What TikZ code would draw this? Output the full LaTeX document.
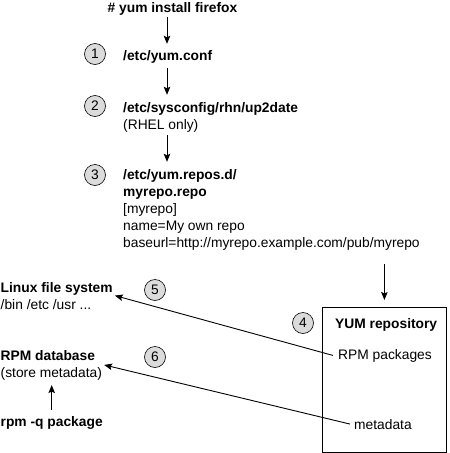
\documentclass[tikz,border=0pt]{standalone}
\usepackage{fontspec}
\setmainfont{Liberation Sans}
\usetikzlibrary{arrows.meta,positioning}

\begin{document}
\begin{tikzpicture}[
       x = 1pt, y = -1pt,
      font = \fontsize{13.8}{17}\selectfont,
StepNum/.style={circle, draw, fill=black!14, minimum size=21pt,
                inner sep=0pt, line width=0.6pt},
FileText/.style={align=left, inner sep=0pt, anchor=base west},
Arr/.style={-{Stealth[length=8pt, width=6.5pt, inset=1.5pt]}, line width=0.9pt},
  ]
\useasboundingbox (0,0) rectangle (450,453);
\coordinate (col) at (167,0);
% install command and the config files (multi-line texts sit on their last line)
\node [inner sep=0pt, anchor=base, font=\fontsize{13.8}{17}\selectfont\bfseries]
      (cmd) at (172.5,12) {\# yum install firefox};
\node [StepNum] (s1) at (95,54) {1};
  \node [FileText] (conf) at (123,60) {\textbf{/etc/yum.conf}};
\node [StepNum] (s2) at (95,106) {2};
  \node [FileText] (up2date) at (123,129)
        {\textbf{/etc/sysconfig/rhn/up2date}\\(RHEL only)};
\node [StepNum] (s3) at (95,175) {3};
  \node [FileText] (repofile) at (123,247)
        {\textbf{/etc/yum.repos.d/}\\\textbf{myrepo.repo}\\{[myrepo]}\\
         name=My own repo\\baseurl=http://myrepo.example.com/pub/myrepo};
% repository box
\node [draw, line width=0.8pt, minimum width=124pt, minimum height=145pt,
       inner sep=0pt, anchor=north west] (repo) at (322,307) {};
\node [StepNum] (s4) at (303,323) {4};
  \node [FileText] (yum) at (335,328) {\textbf{YUM repository}};
  \node [FileText] (rpms) at (338,359) {RPM packages};
  \node [FileText] (meta) at (354,429) {metadata};
% local side
\node [FileText] (fs) at (0.5,309) {\textbf{Linux file system}\\/bin /etc /usr ...};
\node [StepNum] (s5) at (155,290) {5};
\node [FileText] (db) at (0.5,377) {\textbf{RPM database}\\(store metadata)};
\node [StepNum] (s6) at (155,357) {6};
\node [FileText] (rpmq) at (0.5,426) {\textbf{rpm -q package}};
\begin{scope}[Arr]
  \draw ([yshift=-2pt]cmd.south -| col) -- ([yshift=6pt]conf.north -| col);
  \draw ([yshift=-5pt]conf.south -| col) -- ([yshift=7pt]up2date.north -| col);
  \draw ([yshift=-3pt]up2date.south -| col) -- ([yshift=7pt]repofile.north -| col);
  \draw (repofile.south -| repo.north) ++(0,14) -- ([yshift=7pt]repo.north);
  \draw ([xshift=-5pt]rpms.west) -- ([xshift=2pt]fs.east);
  \draw ([xshift=-4pt]meta.west) -- ([xshift=2pt]db.east);
  \draw ([yshift=6pt]rpmq.north) -- ([yshift=-5pt]db.south -| rpmq.north);
\end{scope}
\end{tikzpicture}
\end{document}
